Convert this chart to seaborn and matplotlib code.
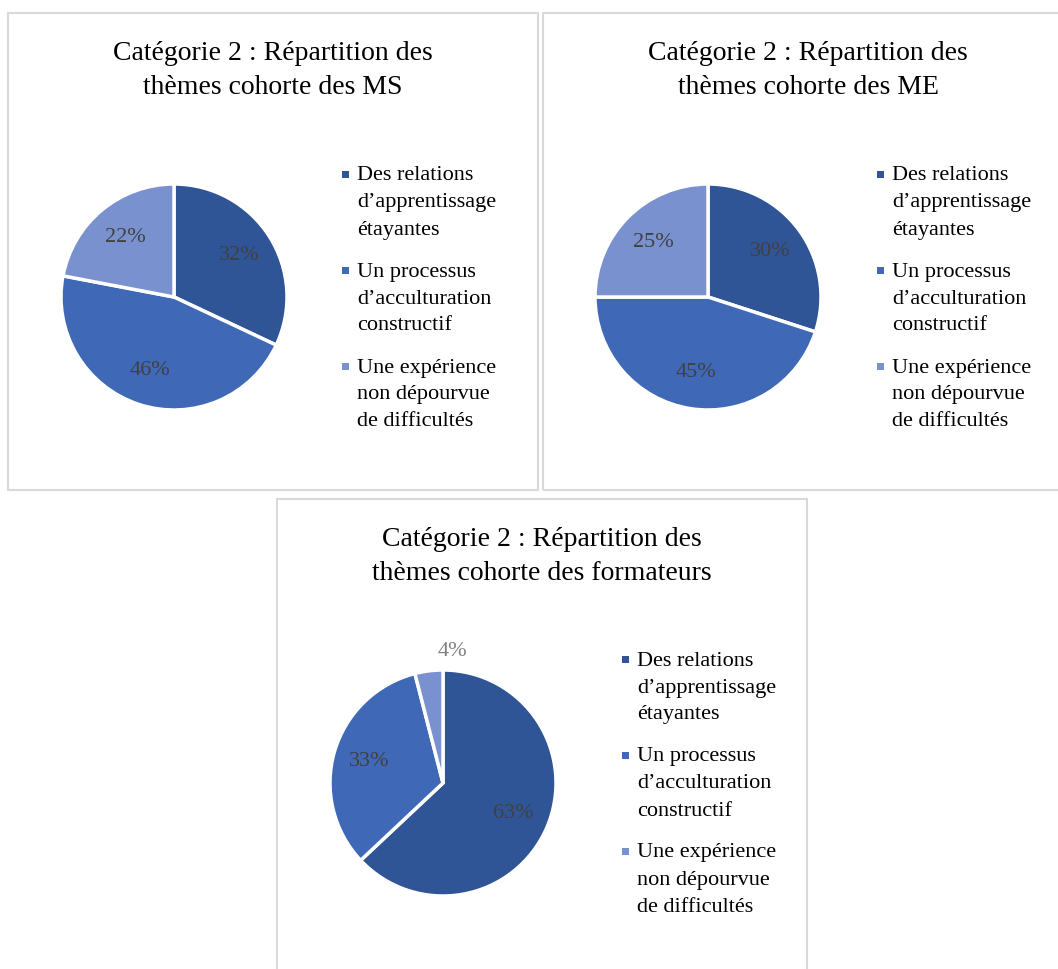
import matplotlib
matplotlib.use("Agg")
import matplotlib.pyplot as plt
import seaborn as sns
from matplotlib.patches import Rectangle

# ---- data ----
categories = ["Des relations\nd’apprentissage\nétayantes",
              "Un processus\nd’acculturation\nconstructif",
              "Une expérience\nnon dépourvue\nde difficultés"]
titles = ["Catégorie 2 : Répartition des\nthèmes cohorte des MS",
          "Catégorie 2 : Répartition des\nthèmes cohorte des ME",
          "Catégorie 2 : Répartition des\nthèmes cohorte des formateurs"]
values_ms = [32, 46, 22]
values_me = [30, 45, 25]
values_form = [63, 33, 4]
colors = ["#2F5597", "#3F69B6", "#7A91CF"]

sns.set_theme(style="white")
plt.rcParams["font.family"] = ["Liberation Serif", "DejaVu Serif"]

W, H = 1058, 969
fig = plt.figure(figsize=(W / 100, H / 100), dpi=100)
fig.patch.set_facecolor("white")

def px_rect(x0, y0, x1, y1):
    return [x0 / W, 1 - y1 / H, (x1 - x0) / W, (y1 - y0) / H]

panels = [
    dict(box=(8, 13, 538, 490), center=(174, 297), title=(273, 53), leg=(345, 176), vals=values_ms),
    dict(box=(543, 13, 1070, 490), center=(708, 297), title=(808, 53), leg=(880, 176), vals=values_me),
    dict(box=(277, 499, 807, 990), center=(443, 783), title=(542, 540), leg=(625, 661), vals=values_form),
]

R = 113
for i, p in enumerate(panels):
    x0, y0, x1, y1 = p["box"]
    fig.patches.append(Rectangle((x0 / W, 1 - y1 / H), (x1 - x0) / W, (y1 - y0) / H,
                                 transform=fig.transFigure, fill=False,
                                 edgecolor="#D9D9D9", linewidth=1.5))
    cx, cy = p["center"]
    ax = fig.add_axes(px_rect(cx - R, cy - R, cx + R, cy + R))
    wedges, texts, autotexts = ax.pie(
        p["vals"], colors=colors, startangle=90, counterclock=False,
        autopct=lambda v: f"{v:.0f}%", pctdistance=0.68,
        wedgeprops=dict(edgecolor="white", linewidth=2.5),
        textprops=dict(fontsize=16, color="#404040"))
    for w, t, v in zip(wedges, autotexts, p["vals"]):
        if v < 8:
            t.set_position((0.08, 1.16))
            t.set_color("#7F7F7F")
    ax.set_xlim(-1, 1)
    ax.set_ylim(-1, 1)
    ax.set_aspect("equal")
    ax.axis("off")

    tx, ty = p["title"]
    for k, line in enumerate(titles[i].split("\n")):
        fig.text(tx / W, 1 - (ty + 34 * k) / H, line, ha="center", va="center",
                 fontsize=20, color="#000000")

    lx, ly = p["leg"]
    for j, cat in enumerate(categories):
        base = ly + 96 * j
        fig.patches.append(Rectangle(((lx - 3.5) / W, 1 - (base + 2) / H), 7 / W, 7 / H,
                                     transform=fig.transFigure, facecolor=colors[j],
                                     edgecolor="none"))
        for k, line in enumerate(cat.split("\n")):
            fig.text((lx + 12) / W, 1 - (base + 27 * k) / H, line, ha="left", va="center",
                     fontsize=16, color="#000000")

fig.savefig("out.png", dpi=100)
